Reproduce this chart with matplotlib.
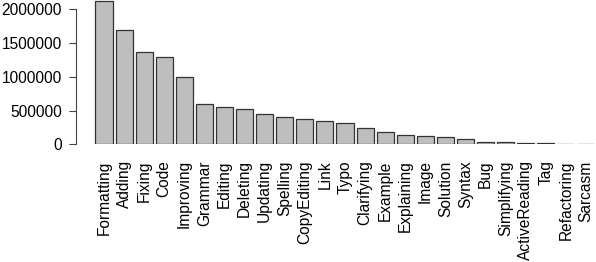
import numpy as np
import matplotlib
matplotlib.use('Agg')
import matplotlib.pyplot as plt

plt.rcParams['font.family'] = ['Liberation Sans', 'DejaVu Sans']

# edit reasons and their counts
reasons = ['Formatting', 'Adding', 'Fixing', 'Code', 'Improving', 'Grammar',
           'Editing', 'Deleting', 'Updating', 'Spelling', 'CopyEditing', 'Link',
           'Typo', 'Clarifying', 'Example', 'Explaining', 'Image', 'Solution',
           'Syntax', 'Bug', 'Simplifying', 'ActiveReading', 'Tag',
           'Refactoring', 'Sarcasm']
counts = [2120000, 1690000, 1370000, 1300000, 1000000, 590000,
          553000, 517000, 443000, 400000, 378000, 340000,
          316000, 237000, 180000, 133000, 118000, 115000,
          74000, 30000, 28000, 20000, 18000,
          10000, 5000]

fig = plt.figure(figsize=(5.96, 2.62), dpi=100)
ax = fig.add_axes([76 / 596, 1 - 144.3 / 262, 1 - 76 / 596, 144.3 / 262])

x = np.arange(len(reasons))
ax.bar(x, counts, width=0.85, color='#bebebe', edgecolor='#333333', linewidth=0.9)

ax.set_xlim(-1.394, 24.5)
ax.set_ylim(0, 2138000)

for s in ['top', 'right', 'bottom']:
    ax.spines[s].set_visible(False)
ax.spines['left'].set_bounds(0, 2000000)
ax.spines['left'].set_linewidth(0.8)
ax.spines['left'].set_color('#444444')

ax.set_yticks([0, 500000, 1000000, 1500000, 2000000])
ax.set_yticklabels(['0', '500000', '1000000', '1500000', '2000000'])
ax.tick_params(axis='y', length=5, width=0.8, color='#444444', pad=5, labelsize=11.2)

ax.set_xticks(x)
ax.set_xticklabels(reasons, rotation=90, va='top', ha='center')
ax.tick_params(axis='x', length=0, pad=11.5, labelsize=11.2)

fig.savefig('out.png', dpi=100)
